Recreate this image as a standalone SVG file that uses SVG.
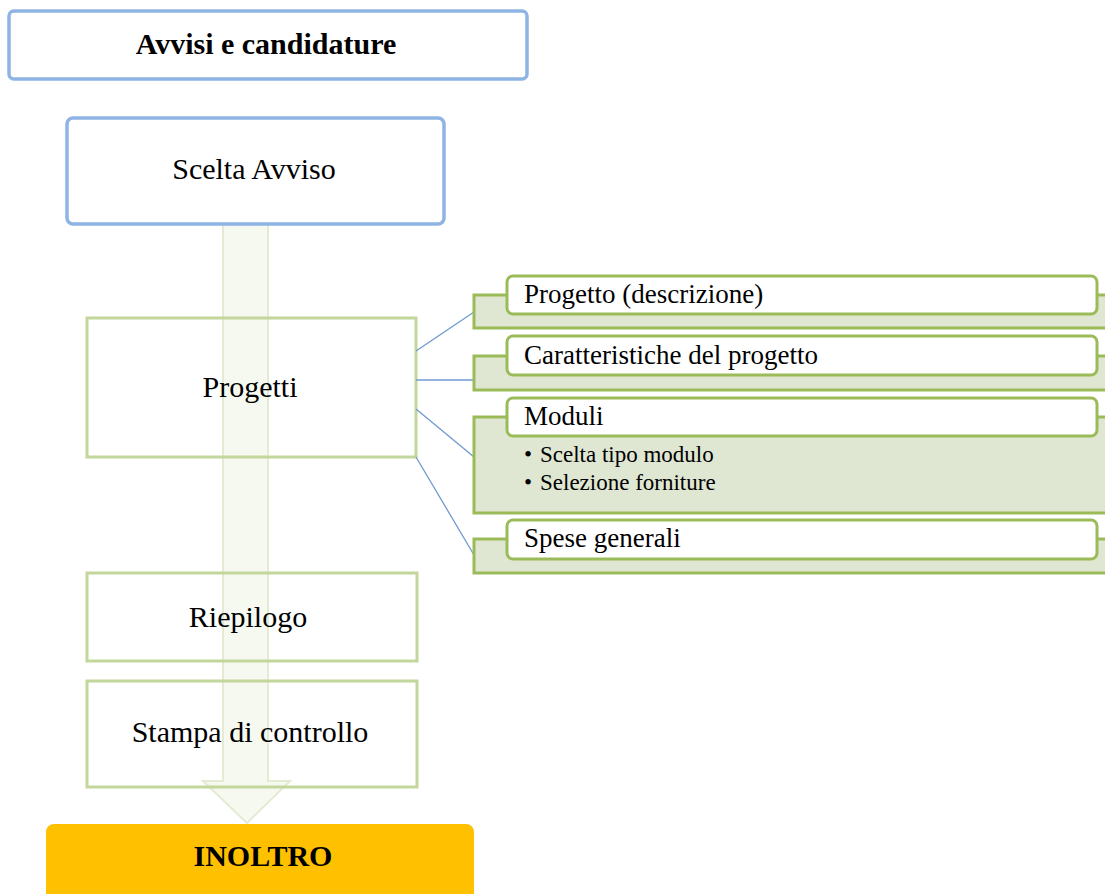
<svg xmlns="http://www.w3.org/2000/svg" width="1105" height="894" viewBox="0 0 1105 894">
<style>
.t{font-family:"Liberation Serif","Times New Roman",serif;fill:#000}
.blue{fill:#fff;stroke:#8EB4E3;stroke-width:3.5}
.lg{fill:none;stroke:#C3D69B;stroke-width:3}
.bg{fill:#DFE7D3;stroke:#9BBB59;stroke-width:3}
.fr{fill:#fff;stroke:#9BBB59;stroke-width:3}
.con{stroke:#6E9AD0;stroke-width:1.3;fill:none}
</style>
<rect width="1105" height="894" fill="#fff"/>
<g id="flow-arrow">
<polygon points="223,224 268,224 268,781 290,781 247,823 203,781 223,781" fill="#F6F9F0" stroke="#E3EBD3" stroke-width="2"/>
</g>
<g id="avvisi">
<rect class="blue" x="9" y="11" width="518" height="68" rx="5"/>
<text class="t" x="266" y="54" font-size="30" font-weight="bold" text-anchor="middle">Avvisi e candidature</text>
</g>
<g id="scelta">
<rect class="blue" x="67" y="118" width="377" height="106" rx="6"/>
<text class="t" x="254" y="179" font-size="30" text-anchor="middle">Scelta Avviso</text>
</g>
<g id="progetti">
<rect class="lg" x="87" y="318" width="329" height="139"/>
<text class="t" x="250" y="397" font-size="30" text-anchor="middle">Progetti</text>
</g>
<g id="riepilogo">
<rect class="lg" x="87" y="573" width="330" height="88"/>
<text class="t" x="248" y="627" font-size="30" text-anchor="middle">Riepilogo</text>
</g>
<g id="stampa">
<rect class="lg" x="87" y="681" width="330" height="106"/>
<text class="t" x="250" y="742" font-size="30" text-anchor="middle">Stampa di controllo</text>
</g>
<g id="inoltro">
<rect x="46" y="824" width="428" height="80" rx="8" fill="#FFC000"/>
<text class="t" x="263" y="866" font-size="30" font-weight="bold" text-anchor="middle">INOLTRO</text>
</g>
<g id="connectors">
<line class="con" x1="416" y1="351" x2="474" y2="312"/>
<line class="con" x1="416" y1="380" x2="474" y2="380"/>
<line class="con" x1="416" y1="409" x2="474" y2="457"/>
<line class="con" x1="416" y1="457" x2="474" y2="555"/>
</g>
<g id="progetto-descrizione">
<rect class="bg" x="474" y="295" width="650" height="33"/>
<rect class="fr" x="507" y="276" width="590" height="38" rx="6"/>
<text class="t" x="524" y="303" font-size="27">Progetto (descrizione)</text>
</g>
<g id="caratteristiche">
<rect class="bg" x="474" y="356" width="650" height="34"/>
<rect class="fr" x="507" y="336" width="590" height="39" rx="6"/>
<text class="t" x="524" y="364" font-size="27">Caratteristiche del progetto</text>
</g>
<g id="moduli">
<rect class="bg" x="474" y="417" width="650" height="96"/>
<rect class="fr" x="507" y="398" width="590" height="38" rx="6"/>
<text class="t" x="524" y="425" font-size="27">Moduli</text>
<text class="t" x="524" y="462" font-size="23">•</text>
<text class="t" x="540" y="462" font-size="23">Scelta tipo modulo</text>
<text class="t" x="524" y="490" font-size="23">•</text>
<text class="t" x="540" y="490" font-size="23">Selezione forniture</text>
</g>
<g id="spese">
<rect class="bg" x="474" y="539" width="650" height="34"/>
<rect class="fr" x="507" y="520" width="590" height="39" rx="6"/>
<text class="t" x="524" y="547" font-size="27">Spese generali</text>
</g>
</svg>
